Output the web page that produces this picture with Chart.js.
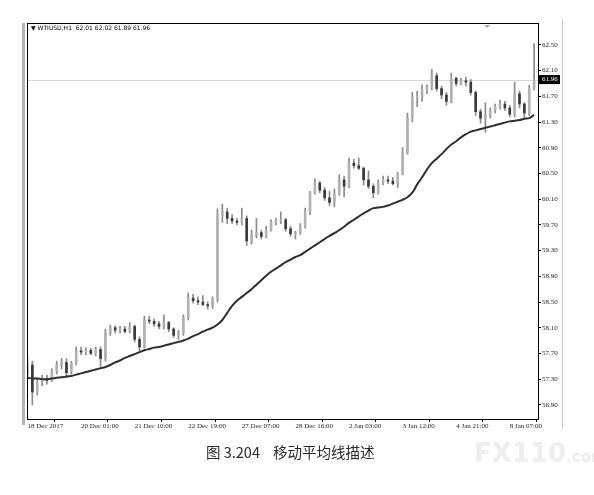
<!DOCTYPE html>
<html>
<head>
<meta charset="utf-8">
<script src="https://cdn.jsdelivr.net/npm/chart.js@4.4.1/dist/chart.umd.min.js"></script>
<style>
  html, body { margin: 0; padding: 0; background: #fff; }
  #wrap { position: relative; width: 594px; height: 495px; overflow: hidden; }
  #c { position: absolute; left: 0; top: 0; }
  #caption {
    position: absolute; left: 206px; top: 441px; white-space: pre;
    font-family: "Noto Sans CJK SC", "Noto Sans", sans-serif; font-size: 14.5px; color: #2a2a2a;
  }
  #mark {
    position: absolute; left: 474px; top: 438px; white-space: pre;
    font-family: "DejaVu Sans", sans-serif; font-weight: bold; font-size: 26px; color: #eeeeee;
  }
  #mark span { font-size: 15px; }
</style>
</head>
<body>
<div id="wrap">
  <canvas id="c" width="594" height="495"></canvas>
  <div id="caption">图 3.204    移动平均线描述</div>
  <div id="mark">FX110<span>.com</span></div>
</div>
<script>
const timeLabels = ['18 Dec 2017', '20 Dec 01:00', '21 Dec 10:00', '22 Dec 19:00', '27 Dec 07:00',
  '28 Dec 16:00', '2 Jan 03:00', '3 Jan 12:00', '4 Jan 21:00', '8 Jan 07:00'];
const timeTickIdx = [0, 11, 22, 33, 44, 55, 66, 77, 88, 99];
const priceTicks = [56.90, 57.30, 57.70, 58.10, 58.50, 58.90, 59.30, 59.70, 60.10, 60.50, 60.90, 61.30, 61.70, 62.10, 62.50];
const bidPrice = 61.96;

const open = [
  57.38, 57.52, 57.10, 57.25, 57.30, 57.28, 57.42, 57.52, 57.56, 57.42,
  57.55, 57.74, 57.72, 57.75, 57.70, 57.76, 57.62, 58.02, 58.10, 58.06,
  58.08, 58.04, 58.12, 57.92, 57.80, 58.22, 58.20, 58.16, 58.12, 58.18,
  58.08, 57.98, 58.02, 58.26, 58.56, 58.52, 58.50, 58.46, 58.44, 58.55,
  59.85, 59.90, 59.80, 59.76, 59.74, 59.80, 59.45, 59.55, 59.58, 59.52,
  59.62, 59.74, 59.76, 59.78, 59.64, 59.56, 59.58, 59.68, 59.90, 60.20,
  60.35, 60.24, 60.12, 60.05, 60.18, 60.40, 60.30, 60.66, 60.62, 60.58,
  60.40, 60.30, 60.20, 60.36, 60.40, 60.38, 60.34, 60.50, 60.82, 61.36,
  61.68, 61.70, 61.80, 61.84, 62.02, 61.82, 61.72, 61.62, 61.98, 61.90,
  61.94, 61.92, 61.76, 61.46, 61.36, 61.40, 61.48, 61.54, 61.58, 61.52,
  61.42, 61.74, 61.58, 61.44, 61.82];
const high = [
  57.66, 57.58, 57.32, 57.36, 57.36, 57.46, 57.58, 57.62, 57.62, 57.58,
  57.80, 57.80, 57.79, 57.78, 57.80, 57.80, 58.08, 58.14, 58.13, 58.12,
  58.12, 58.18, 58.14, 57.96, 58.28, 58.28, 58.24, 58.20, 58.30, 58.20,
  58.10, 58.06, 58.30, 58.64, 58.62, 58.58, 58.60, 58.50, 58.58, 59.95,
  60.02, 59.96, 59.86, 59.80, 59.96, 59.84, 59.62, 59.80, 59.62, 59.68,
  59.78, 59.80, 59.90, 59.80, 59.68, 59.60, 59.72, 59.96, 60.22, 60.42,
  60.38, 60.28, 60.22, 60.26, 60.48, 60.46, 60.74, 60.72, 60.74, 60.60,
  60.54, 60.34, 60.40, 60.46, 60.46, 60.44, 60.52, 60.90, 61.44, 61.76,
  61.78, 61.88, 61.88, 62.12, 62.06, 61.86, 61.76, 62.06, 62.00, 61.98,
  62.00, 61.96, 61.78, 61.50, 61.60, 61.52, 61.58, 61.64, 61.62, 61.56,
  61.92, 61.78, 61.60, 61.87, 62.52];
const low = [
  57.30, 56.90, 57.05, 57.20, 57.22, 57.26, 57.38, 57.46, 57.32, 57.38,
  57.52, 57.68, 57.68, 57.68, 57.66, 57.50, 57.58, 57.98, 58.02, 58.02,
  58.02, 58.02, 57.88, 57.74, 57.78, 58.16, 58.12, 58.08, 58.08, 58.04,
  57.95, 57.92, 57.98, 58.22, 58.48, 58.46, 58.44, 58.39, 58.40, 58.50,
  59.74, 59.72, 59.72, 59.70, 59.70, 59.38, 59.40, 59.50, 59.48, 59.50,
  59.60, 59.70, 59.72, 59.60, 59.52, 59.48, 59.55, 59.65, 59.86, 60.18,
  60.20, 60.08, 60.00, 59.98, 60.16, 60.14, 60.28, 60.58, 60.56, 60.32,
  60.26, 60.12, 60.18, 60.32, 60.34, 60.32, 60.28, 60.48, 60.80, 61.30,
  61.54, 61.62, 61.74, 61.80, 61.78, 61.66, 61.56, 61.60, 61.86, 61.88,
  61.86, 61.72, 61.40, 61.28, 61.14, 61.36, 61.44, 61.50, 61.48, 61.38,
  61.38, 61.52, 61.36, 61.40, 61.80];
const close = [
  57.52, 57.10, 57.25, 57.30, 57.28, 57.42, 57.52, 57.56, 57.40, 57.55,
  57.74, 57.72, 57.75, 57.70, 57.76, 57.62, 58.02, 58.10, 58.06, 58.08,
  58.04, 58.12, 57.92, 57.80, 58.22, 58.20, 58.16, 58.12, 58.18, 58.08,
  57.98, 58.02, 58.26, 58.56, 58.52, 58.50, 58.46, 58.44, 58.55, 59.85,
  59.90, 59.80, 59.76, 59.74, 59.80, 59.45, 59.55, 59.58, 59.52, 59.62,
  59.74, 59.76, 59.78, 59.64, 59.56, 59.58, 59.68, 59.90, 60.20, 60.35,
  60.24, 60.12, 60.05, 60.18, 60.40, 60.30, 60.66, 60.62, 60.58, 60.40,
  60.30, 60.20, 60.36, 60.40, 60.38, 60.34, 60.50, 60.82, 61.36, 61.68,
  61.70, 61.80, 61.84, 62.02, 61.82, 61.72, 61.62, 61.98, 61.90, 61.94,
  61.92, 61.76, 61.46, 61.36, 61.40, 61.48, 61.54, 61.58, 61.52, 61.42,
  61.74, 61.58, 61.44, 61.82, 61.96];
const movingAvg = [
  57.32, 57.31, 57.31, 57.30, 57.30, 57.31, 57.32, 57.33, 57.34, 57.35,
  57.37, 57.39, 57.41, 57.43, 57.45, 57.47, 57.49, 57.52, 57.56, 57.59,
  57.63, 57.66, 57.69, 57.72, 57.75, 57.77, 57.79, 57.80, 57.82, 57.84,
  57.86, 57.88, 57.90, 57.93, 57.97, 58.00, 58.04, 58.07, 58.10, 58.15,
  58.22, 58.33, 58.44, 58.52, 58.58, 58.64, 58.70, 58.77, 58.84, 58.91,
  58.97, 59.02, 59.07, 59.12, 59.16, 59.20, 59.23, 59.28, 59.33, 59.38,
  59.43, 59.48, 59.53, 59.57, 59.62, 59.67, 59.73, 59.78, 59.83, 59.88,
  59.92, 59.96, 59.97, 59.98, 60.00, 60.03, 60.06, 60.09, 60.13, 60.20,
  60.33, 60.44, 60.56, 60.66, 60.73, 60.80, 60.88, 60.95, 61.00, 61.06,
  61.11, 61.15, 61.17, 61.19, 61.21, 61.23, 61.25, 61.27, 61.29, 61.31,
  61.32, 61.33, 61.35, 61.36, 61.41];

const wicks = high.map((h, i) => ({ x: i, y: [low[i], h] }));
const bodies = open.map((o, i) => ({ x: i, y: [o, close[i]] }));
const bodyColors = open.map((o, i) => close[i] >= o ? '#b2b2b2' : '#3a3a3a');
const maPoints = movingAvg.map((v, i) => ({ x: i, y: v }));

const axisFont = { family: 'Liberation Serif', size: 7 };

// frame, bid line, header text and the window edges
const terminalDecor = {
  id: 'terminalDecor',
  beforeDatasetsDraw(chart) {
    const { ctx, chartArea: a, scales } = chart;
    const yb = Math.round(scales.y.getPixelForValue(bidPrice)) + 0.5;
    ctx.save();
    ctx.strokeStyle = '#d6d6d6';
    ctx.lineWidth = 1;
    ctx.beginPath();
    ctx.moveTo(a.left, yb);
    ctx.lineTo(a.right, yb);
    ctx.stroke();
    ctx.restore();
  },
  afterDraw(chart) {
    const { ctx, chartArea: a, scales } = chart;
    ctx.save();
    // outer window edges
    ctx.fillStyle = '#b4b4b4';
    ctx.fillRect(22, a.top, 3, a.bottom - a.top + 6);
    ctx.fillStyle = '#c8c8c8';
    ctx.fillRect(562, a.top - 4, 1, a.bottom - a.top + 14);
    // plot frame
    ctx.strokeStyle = '#000';
    ctx.lineWidth = 1;
    ctx.strokeRect(a.left + 0.5, a.top + 0.5, a.right - a.left, a.bottom - a.top);
    // header
    ctx.fillStyle = '#000';
    ctx.font = '6px "DejaVu Sans"';
    ctx.textBaseline = 'middle';
    ctx.fillText('\u25BC WTIUSD,H1  62.01 62.02 61.89 61.96', a.left + 4, a.top + 5);
    // shift marker
    ctx.fillStyle = '#a8a8a8';
    ctx.beginPath();
    ctx.moveTo(484, a.top + 2);
    ctx.lineTo(490, a.top + 2);
    ctx.lineTo(487, a.top + 5);
    ctx.closePath();
    ctx.fill();
    // bid label
    const yb = scales.y.getPixelForValue(bidPrice);
    ctx.fillStyle = '#000';
    ctx.fillRect(a.right + 1, yb - 4.5, 21, 9);
    ctx.fillStyle = '#fff';
    ctx.font = '7px "Liberation Serif"';
    ctx.fillText(bidPrice.toFixed(2), a.right + 4, yb);
    ctx.restore();
  }
};

new Chart(document.getElementById('c'), {
  type: 'bar',
  data: {
    datasets: [
      {
        type: 'line', data: maPoints, borderColor: '#2e2e2e', borderWidth: 2,
        pointRadius: 0, tension: 0.4, order: 0
      },
      {
        data: bodies, backgroundColor: bodyColors, barThickness: 2,
        grouped: false, order: 1
      },
      {
        data: wicks, backgroundColor: '#8a8a8a', barThickness: 1,
        grouped: false, order: 2
      }
    ]
  },
  options: {
    responsive: false,
    animation: false,
    layout: { padding: { left: 27, top: 23, right: 32, bottom: 62 } },
    plugins: { legend: { display: false }, tooltip: { enabled: false } },
    scales: {
      x: {
        type: 'linear', min: -0.1, max: 104.8, offset: false,
        grid: { drawOnChartArea: false, drawTicks: true, tickLength: 3, color: '#000' },
        border: { display: true, color: '#000' },
        ticks: {
          align: 'start', autoSkip: false, maxRotation: 0, padding: 0,
          font: axisFont, color: '#222',
          callback: v => timeLabels[timeTickIdx.indexOf(v)]
        },
        afterBuildTicks: s => { s.ticks = timeTickIdx.map(v => ({ value: v })); },
        afterFit: s => { s.height = 14; }
      },
      y: {
        position: 'right', min: 56.68, max: 62.84,
        grid: { drawOnChartArea: false, drawTicks: true, tickLength: 3, color: '#000' },
        border: { display: true, color: '#000' },
        ticks: { font: axisFont, color: '#222', padding: 1, callback: v => v.toFixed(2) },
        afterBuildTicks: s => { s.ticks = priceTicks.map(v => ({ value: v })); },
        afterFit: s => { s.width = 24; }
      }
    }
  },
  plugins: [terminalDecor]
});
</script>
</body>
</html>
